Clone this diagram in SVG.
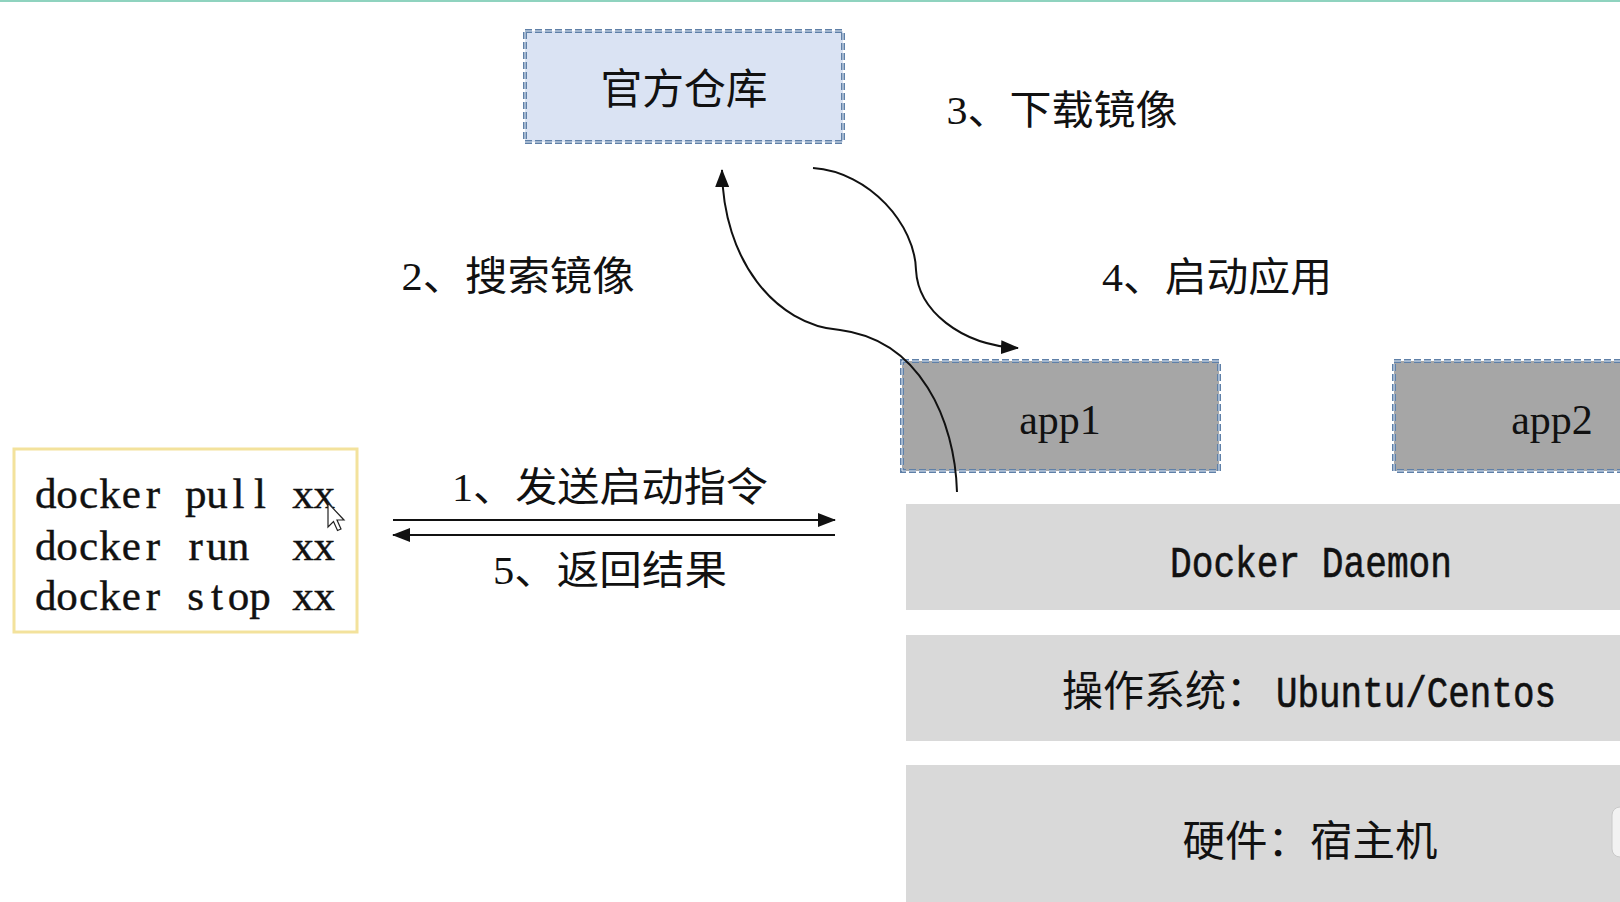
<svg xmlns="http://www.w3.org/2000/svg" width="1620" height="902" viewBox="0 0 1620 902">
<style>
.cjk{font-family:"Liberation Serif","Noto Sans CJK SC",serif;fill:#111;}
.mono{font-family:"Liberation Mono","Noto Sans CJK SC",monospace;fill:#111;stroke:#111;stroke-width:0.6;}
.cmd{font-family:"Liberation Serif",serif;fill:#111;stroke:#111;stroke-width:0.4;}
.serif{font-family:"Liberation Serif",serif;fill:#111;}
.dash{stroke:#5f80a8;stroke-width:4;stroke-dasharray:7 3;}
.dash2{fill:none;stroke:#e8eef6;stroke-width:1;stroke-dasharray:7 3;}
.layer{fill:#d9d9d9;}
.conn{fill:none;stroke:#111;stroke-width:2;}
</style>
<defs>
<marker id="ah" viewBox="0 0 18 14" refX="17" refY="7" markerWidth="18" markerHeight="14" markerUnits="userSpaceOnUse" orient="auto">
<path d="M0,0 L18,7 L0,14 Z" fill="#111"/>
</marker>
</defs>
<rect x="0" y="0" width="1620" height="902" fill="#ffffff"/>
<rect x="0" y="0" width="1620" height="2" fill="#8fd3bf"/>

<g id="repo">
<rect x="525" y="31" width="318" height="111" fill="#dae3f3" class="dash"/>
<rect x="525" y="31" width="318" height="111" class="dash2"/>
<text class="cjk" x="684" y="90" font-size="42" text-anchor="middle" dominant-baseline="central" textLength="167" lengthAdjust="spacingAndGlyphs">官方仓库</text>
</g>

<g id="client">
<rect x="14" y="449" width="343" height="183" fill="#ffffff" stroke="#f3e29c" stroke-width="3"/>
<text class="cmd" xml:space="preserve" font-size="43" text-anchor="middle" y="508" x="45.7 67.1 88.6 110.0 131.4 152.9 174.3 195.7 217.1 238.6 260.0 281.4 302.9 324.3">docker pull xx</text>
<text class="cmd" xml:space="preserve" font-size="43" text-anchor="middle" y="560" x="45.7 67.1 88.6 110.0 131.4 152.9 174.3 195.7 217.1 238.6 260.0 281.4 302.9 324.3">docker run  xx</text>
<text class="cmd" xml:space="preserve" font-size="43" text-anchor="middle" y="610" x="45.7 67.1 88.6 110.0 131.4 152.9 174.3 195.7 217.1 238.6 260.0 281.4 302.9 324.3">docker stop xx</text>
<path d="M328,503 L328,527 L333.5,521.5 L337.5,530.5 L341,529 L337,520 L344,520 Z" fill="#ffffff" stroke="#222" stroke-width="1.2"/>
</g>

<g id="app1">
<rect x="902" y="361" width="317" height="110" fill="#a6a6a6" class="dash"/>
<rect x="902" y="361" width="317" height="110" class="dash2"/>
<text class="serif" x="1060" y="434" font-size="42" text-anchor="middle">app1</text>
</g>

<g id="app2">
<rect x="1394" y="361" width="240" height="110" fill="#a6a6a6" class="dash"/>
<rect x="1394" y="361" width="240" height="110" class="dash2"/>
<text class="serif" x="1552" y="434" font-size="42" text-anchor="middle">app2</text>
</g>

<g id="daemon">
<rect class="layer" x="906" y="504" width="714" height="106"/>
<text class="mono" x="1170" y="577" font-size="44" textLength="282" lengthAdjust="spacingAndGlyphs">Docker Daemon</text>
</g>

<g id="os">
<rect class="layer" x="906" y="635" width="714" height="106"/>
<text class="cjk" x="1062" y="692" font-size="42" dominant-baseline="central" textLength="205" lengthAdjust="spacingAndGlyphs">操作系统：</text>
<text class="mono" x="1276" y="707" font-size="44" textLength="280" lengthAdjust="spacingAndGlyphs">Ubuntu/Centos</text>
</g>

<g id="host">
<rect class="layer" x="906" y="765" width="714" height="137"/>
<text class="cjk" x="1310" y="842" font-size="42" text-anchor="middle" dominant-baseline="central" textLength="255" lengthAdjust="spacingAndGlyphs">硬件：宿主机</text>
<rect x="1612" y="807" width="20" height="50" rx="8" fill="#f2f2f2" stroke="#c8c8c8" stroke-width="1"/>
</g>

<g id="connectors">
<path class="conn" d="M393,520 L835,520" marker-end="url(#ah)"/>
<path class="conn" d="M835,535 L393,535" marker-end="url(#ah)"/>
<path class="conn" d="M957,492 C955,420 920,340 840,330 C775,325 723,260 722,170" marker-end="url(#ah)"/>
<path class="conn" d="M813,168 C870,172 915,225 916,270 C918,310 960,345 1018,348" marker-end="url(#ah)"/>
</g>

<g id="labels">
<text class="cjk" x="518" y="276" font-size="40" text-anchor="middle" dominant-baseline="central" textLength="233" lengthAdjust="spacingAndGlyphs">2、搜索镜像</text>
<text class="cjk" x="1062" y="110" font-size="40" text-anchor="middle" dominant-baseline="central" textLength="231" lengthAdjust="spacingAndGlyphs">3、下载镜像</text>
<text class="cjk" x="1217" y="277" font-size="40" text-anchor="middle" dominant-baseline="central" textLength="230" lengthAdjust="spacingAndGlyphs">4、启动应用</text>
<text class="cjk" x="610" y="487" font-size="40" text-anchor="middle" dominant-baseline="central" textLength="316" lengthAdjust="spacingAndGlyphs">1、发送启动指令</text>
<text class="cjk" x="610" y="570" font-size="40" text-anchor="middle" dominant-baseline="central" textLength="234" lengthAdjust="spacingAndGlyphs">5、返回结果</text>
</g>
</svg>
